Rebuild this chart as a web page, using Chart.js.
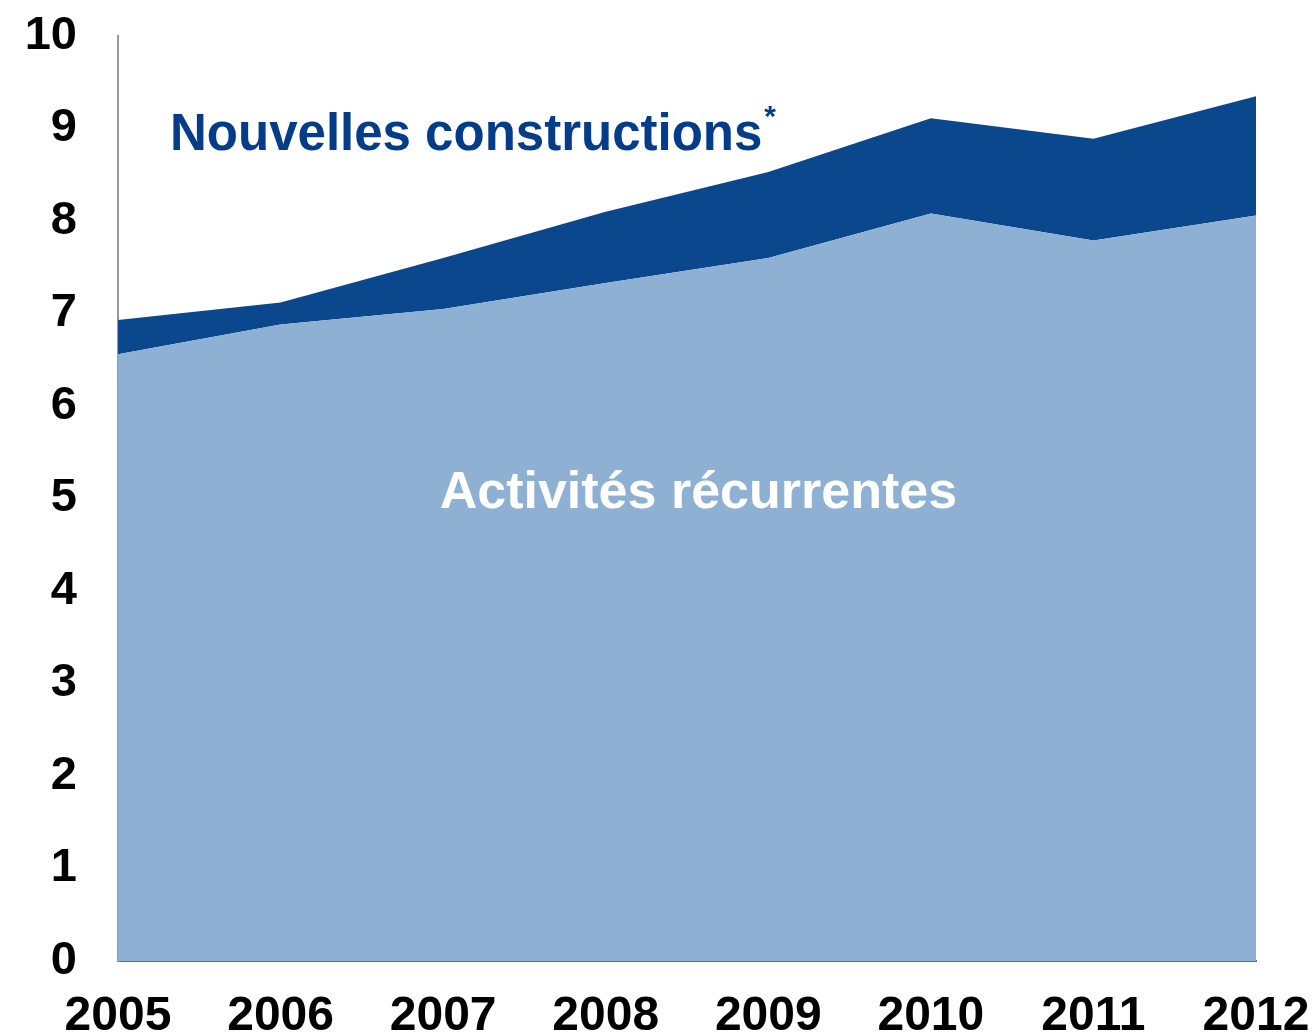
<!DOCTYPE html>
<html>
<head>
<meta charset="utf-8">
<script src="https://cdn.jsdelivr.net/npm/chart.js@4"></script>
<style>
  html, body { margin: 0; padding: 0; background: #fff; }
  #wrap { width: 1315px; height: 1036px; position: relative; }
</style>
</head>
<body>
<div id="wrap"><canvas id="chart"></canvas></div>
<script>
const years = ['2005', '2006', '2007', '2008', '2009', '2010', '2011', '2012'];
// activités récurrentes (bas)
const recurrentes = [6.56, 6.88, 7.05, 7.33, 7.60, 8.08, 7.79, 8.06];
// nouvelles constructions (empilé au-dessus)
const nouvelles = [0.37, 0.24, 0.55, 0.77, 0.93, 1.03, 1.10, 1.29];
const yTicks = [0, 1, 2, 3, 4, 5, 6, 7, 8, 9, 10];

const LIGHT = '#8db0d3';
const DARK = '#0b478c';
const FONT = '"Liberation Sans", Arial, sans-serif';

// étiquettes dans la zone (en coordonnées de données)
const areaLabels = [
    { text: 'Nouvelles constructions', sup: '*', x: 0.32, y: 8.92, size: 51, color: '#033d8a', align: 'left' },
    { text: 'Activités récurrentes', x: 3.57, y: 5.05, size: 52, color: '#ffffff', align: 'center' }
];

const labelPlugin = {
    id: 'areaLabels',
    afterDatasetsDraw(chart) {
        const ctx = chart.ctx;
        const xs = chart.scales.x, ys = chart.scales.y;
        ctx.save();
        ctx.textBaseline = 'middle';
        areaLabels.forEach(l => {
            const px = xs.getPixelForValue(l.x);
            const py = ys.getPixelForValue(l.y);
            ctx.font = 'bold ' + l.size + 'px ' + FONT;
            ctx.fillStyle = l.color;
            ctx.textAlign = l.align;
            ctx.fillText(l.text, px, py);
            if (l.sup) {
                const w = ctx.measureText(l.text).width;
                ctx.save();
                ctx.font = 'bold 30px ' + FONT;
                ctx.textAlign = 'left';
                ctx.fillText(l.sup, px + w + 2, py - 18);
                ctx.restore();
            }
        });
        ctx.restore();
    }
};

let chart;

function initChart() {
    const ctx = document.getElementById('chart').getContext('2d');
    chart = new Chart(ctx, {
        type: 'line',
        data: {
            labels: years,
            datasets: [{
                label: 'Activités récurrentes',
                data: recurrentes,
                backgroundColor: LIGHT,
                borderWidth: 0,
                pointRadius: 0,
                fill: 'origin',
                tension: 0
            }, {
                label: 'Nouvelles constructions*',
                data: nouvelles,
                backgroundColor: DARK,
                borderWidth: 0,
                pointRadius: 0,
                fill: '-1',
                tension: 0
            }]
        },
        options: {
            responsive: false,
            animation: false,
            layout: { padding: { top: 36, right: 59, left: 0, bottom: 0 } },
            plugins: {
                legend: { display: false },
                tooltip: { enabled: false }
            },
            scales: {
                x: {
                    offset: false,
                    grid: { display: false, drawTicks: false },
                    border: { display: true, color: '#6e6e6e', width: 2 },
                    ticks: {
                        color: '#000',
                        font: { family: FONT, size: 48, weight: 'bold' },
                        padding: 27,
                        maxRotation: 0,
                        autoSkip: false
                    },
                    afterFit(s) {
                        s.height = 75;
                        s.paddingLeft = 0;
                        s.paddingRight = 0;
                    }
                },
                y: {
                    stacked: true,
                    min: 0,
                    max: 10,
                    grid: { display: false, drawTicks: false },
                    border: { display: true, color: '#999999', width: 2 },
                    afterBuildTicks(s) { s.ticks = yTicks.map(v => ({ value: v })); },
                    ticks: {
                        color: '#000',
                        font: { family: FONT, size: 47, weight: 'bold' },
                        padding: 41
                    },
                    afterFit(s) {
                        s.width = 118;
                        s.paddingTop = 0;
                        s.paddingBottom = 0;
                    }
                }
            }
        },
        plugins: [labelPlugin]
    });
}

window.onload = () => {
    const c = document.getElementById('chart');
    c.width = 1315;
    c.height = 1036;
    initChart();
};
</script>
</body>
</html>
